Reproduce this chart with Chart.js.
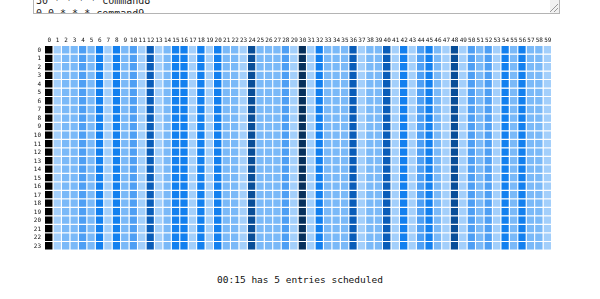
<!DOCTYPE html>
<html>
<head>
<meta charset="utf-8">
<script src="https://cdn.jsdelivr.net/npm/chart.js@4/dist/chart.umd.min.js"></script>
<style>
  body { margin:0; width:600px; height:299px; background:#fff; overflow:hidden; position:relative;
         font-family:"DejaVu Sans Mono", monospace; color:#222; }
  #cron { position:absolute; left:33px; top:-30px; width:525px; height:42px; border:1px solid #b4b4b4;
          overflow:hidden; background:#fff; }
  #cron pre { margin:0; padding:23px 0 0 2px; font:10px/13px "DejaVu Sans Mono", monospace; color:#222; }
  #cron .bar { position:absolute; right:0; top:0; width:9px; height:100%; background:#f1f1f1; }
  #cron .thumb { position:absolute; right:1px; top:0; width:7px; height:16px; background:#c1c1c1; }
  #cron .grip { position:absolute; right:1px; bottom:1px; width:8px; height:8px;
                background:linear-gradient(135deg, transparent 45%, #999 46%, #999 54%, transparent 55%, transparent 70%, #999 71%, #999 79%, transparent 80%); }
  #wrap { position:absolute; left:30px; top:33px; width:530px; height:225px; }
  #status { position:absolute; left:0; top:274px; width:600px; text-align:center; font-size:9.5px; color:#111; }
</style>
</head>
<body>
<div id="cron"><pre>30 * * * * command8
0 0 * * * command9</pre><div class="bar"><div class="thumb"></div></div><div class="grip"></div></div>
<div id="wrap"><canvas id="heat"></canvas></div>
<div id="status">00:15 has 5 entries scheduled</div>
<script>
// minute columns / hour rows
const minutes = ['0','1','2','3','4','5','6','7','8','9','10','11','12','13','14','15','16','17','18','19',
  '20','21','22','23','24','25','26','27','28','29','30','31','32','33','34','35','36','37','38','39',
  '40','41','42','43','44','45','46','47','48','49','50','51','52','53','54','55','56','57','58','59'];
const hours = [0,1,2,3,4,5,6,7,8,9,10,11,12,13,14,15,16,17,18,19,20,21,22,23];

// scheduled entries per minute (same for every hour)
const entriesPerMinute = [
  10,1,2,2,3,2,4,1,4,2, 3,1,5,1,2,4,4,1,4,1,
  4,2,2,1,6,2,2,2,3,1, 7,1,4,2,2,2,5,1,2,2,
  5,1,4,1,3,4,2,1,6,1, 3,2,3,1,4,2,4,2,2,1
];

const SHADES = ['#ffffff','#a3cffb','#7ab9f8','#4e9ff4','#1380ef','#0a5db9','#094e98','#07305c','#000000'];
const shade = n => SHADES[Math.min(n, SHADES.length - 1)];

const datasets = hours.map(h => ({
  label: String(h),
  data: minutes.map(() => 1),
  backgroundColor: entriesPerMinute.map(shade),
  borderColor: '#ffffff',
  borderWidth: { top: 0, left: 0, right: 1, bottom: 1 },
  borderSkipped: false,
  inflateAmount: 0,
  barPercentage: 1,
  categoryPercentage: 1
}));

const tickFont = { family: 'DejaVu Sans Mono', size: 6 };

new Chart(document.getElementById('heat'), {
  type: 'bar',
  data: { labels: minutes, datasets },
  options: {
    responsive: true, maintainAspectRatio: false, animation: false,
    layout: { padding: { right: 8, bottom: 5 } },
    plugins: { legend: { display: false }, tooltip: { enabled: false } },
    scales: {
      x: {
        position: 'top', stacked: true,
        grid: { display: false, drawTicks: false }, border: { display: false },
        ticks: { font: tickFont, color: '#111', autoSkip: false, maxRotation: 0, padding: 2 },
        afterFit: s => { s.height = 13; }
      },
      y: {
        type: 'linear', stacked: true, reverse: true, min: 0, max: hours.length,
        grid: { display: false, drawTicks: false }, border: { display: false },
        afterBuildTicks: s => { s.ticks = hours.map(h => ({ value: h + 0.5 })); },
        ticks: { font: tickFont, color: '#111', autoSkip: false, padding: 4,
                 callback: v => String(Math.floor(v)) },
        afterFit: s => { s.width = 15; }
      }
    }
  }
});
</script>
</body>
</html>
